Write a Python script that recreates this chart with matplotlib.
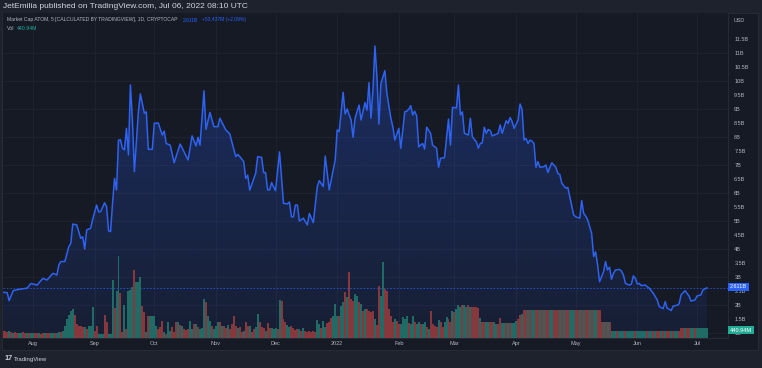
import matplotlib.pyplot as plt
import matplotlib.dates as mdates
from matplotlib.patches import Polygon, Rectangle
import numpy as np
import pandas as pd

plt.rcParams['font.family'] = ['Liberation Sans', 'DejaVu Sans']

W, H = 762, 368

# Market cap of ATOM in billions of USD; day offsets are counted from 2021-08-01
start = pd.Timestamp('2021-08-01')
cap_day = [-15, -13, -12, -10, -7, -3, -1, 2, 5, 7, 10, 12, 13, 14, 16, 18, 19, 20, 22, 24,
           25, 26, 27, 29, 30, 32, 33, 34, 36, 37, 38, 39, 40, 41, 42, 43, 44, 45, 46, 47,
           48, 49, 50, 51, 53, 54, 56, 57, 58, 60, 61, 63, 65, 66, 67, 69, 71, 74, 76, 78,
           80, 82, 83, 84, 86, 87, 89, 91, 93, 94, 97, 99, 100, 102, 103, 104, 106, 107, 108, 109,
           112, 113, 115, 116, 117, 118, 119, 120, 122, 124, 126, 128, 129, 130, 131, 132, 133, 134, 136, 138,
           139, 141, 143, 144, 146, 147, 149, 152, 153, 154, 156, 157, 158, 160, 161, 162, 164, 165, 167, 168,
           169, 170, 171, 172, 173, 174, 175, 177, 178, 180, 181, 182, 184, 185, 187, 188, 189, 190, 191, 192,
           193, 194, 196, 197, 198, 200, 201, 203, 204, 205, 207, 209, 210, 211, 213, 214, 215, 216, 217, 219,
           220, 221, 223, 224, 225, 226, 227, 228, 229, 230, 231, 234, 235, 236, 238, 239, 240, 241, 242, 244,
           245, 246, 247, 248, 249, 250, 251, 252, 253, 254, 255, 257, 258, 259, 260, 261, 263, 264, 265, 266,
           268, 269, 270, 271, 272, 273, 275, 276, 277, 278, 279, 280, 281, 282, 283, 284, 285, 286, 287, 288,
           289, 290, 291, 292, 293, 295, 296, 297, 298, 300, 301, 302, 303, 304, 305, 306, 308, 309, 310, 312,
           314, 315, 317, 318, 319, 320, 321, 322, 324, 325, 326, 328, 330, 331, 333, 334, 336, 337, 339]
cap_bn = [2.45, 2.44, 2.15, 2.51, 2.56, 2.60, 2.77, 2.71, 2.95, 2.89, 3.13, 3.07, 3.43, 3.55, 3.55, 4.08, 4.20, 4.89, 4.86, 4.38,
          4.44, 4.00, 4.68, 4.74, 5.06, 5.57, 5.33, 5.33, 5.65, 5.51, 4.65, 4.62, 5.63, 6.52, 6.11, 7.89, 7.90, 7.60, 7.54, 8.31,
          7.36, 9.86, 8.61, 6.76, 8.90, 9.54, 8.85, 8.90, 7.56, 7.56, 8.49, 8.50, 8.07, 8.21, 7.77, 7.71, 7.08, 7.75, 7.47, 7.18,
          8.04, 7.68, 7.99, 7.71, 9.65, 8.27, 8.88, 8.37, 8.37, 8.67, 8.25, 8.11, 7.83, 7.30, 7.38, 7.30, 7.12, 6.52, 6.64, 6.10,
          6.70, 7.30, 7.27, 6.73, 6.73, 6.11, 6.11, 6.37, 6.08, 7.47, 5.63, 5.61, 5.68, 5.15, 5.15, 5.57, 5.57, 5.00, 5.10, 4.86,
          5.27, 4.94, 6.23, 6.44, 6.23, 7.32, 6.11, 7.18, 8.25, 8.19, 9.60, 8.82, 9.00, 8.61, 7.99, 8.67, 9.14, 8.61, 9.23, 8.96,
          9.94, 8.67, 9.70, 11.25, 10.16, 8.46, 9.92, 10.37, 9.56, 8.67, 8.37, 7.89, 8.31, 7.60, 8.90, 8.92, 8.99, 9.12, 8.79, 8.92,
          8.75, 7.65, 7.77, 7.57, 8.35, 8.13, 7.71, 7.60, 6.92, 7.24, 7.26, 8.64, 7.71, 9.06, 9.04, 9.86, 8.79, 8.90, 8.13, 8.07,
          8.67, 8.01, 7.83, 7.60, 7.77, 7.79, 8.35, 8.13, 8.27, 8.23, 8.04, 8.13, 8.43, 8.13, 8.58, 8.49, 8.70, 8.55, 8.31, 8.61,
          9.18, 8.99, 7.89, 7.95, 7.77, 7.89, 7.85, 7.77, 6.92, 7.12, 6.92, 6.94, 7.00, 6.73, 6.92, 7.08, 6.92, 6.70, 6.66, 6.35,
          6.17, 6.20, 5.87, 5.54, 5.21, 5.15, 5.10, 5.73, 5.27, 5.18, 5.04, 4.80, 4.56, 3.73, 3.90, 3.43, 2.83, 3.01, 3.19, 3.55,
          3.25, 3.35, 2.92, 3.13, 3.25, 3.27, 3.21, 3.07, 2.77, 2.71, 2.75, 3.04, 2.95, 2.75, 2.77, 2.69, 2.71, 2.65, 2.60, 2.42,
          2.18, 1.94, 1.87, 2.12, 1.88, 1.85, 1.80, 1.96, 1.99, 2.04, 2.36, 2.51, 2.32, 2.14, 2.18, 2.32, 2.36, 2.54, 2.611]

# Daily volume in millions, first bar on 2021-07-17; g = up day, r = down day
vol_first_day = -15
volume = ([330, 300, 280, 310, 250, 240, 260, 230, 220, 240, 250, 210, 230, 240, 220, 230,
           240, 210, 220, 200, 240, 230, 210, 220, 230, 240, 220, 230, 260, 280, 300]
          + [525, 855, 1035, 1230, 1305, 1035, 630, 525, 525, 480,
             480, 405, 555, 555, 1410, 330, 525, 180, 180, 180,
             1035, 705, 180, 180, 2610, 1350, 2130, 3705, 2010, 255,
             1500, 405, 2130, 2175, 2280, 3060, 2505, 2505, 2730, 1455,
             1155, 255, 1005, 1005, 975, 1005, 555, 405, 480, 780,
             255, 180, 735, 330, 480, 255, 705, 735, 585, 525,
             405, 375, 405, 780, 405, 630, 630, 480, 405, 435,
             1755, 1635, 975, 780, 525, 405, 555, 705, 705, 525,
             525, 435, 585, 405, 630, 975, 525, 435, 480, 285,
             330, 705, 525, 525, 285, 405, 480, 1080, 735, 480,
             435, 330, 675, 435, 435, 405, 435, 405, 1710, 1665,
             855, 705, 585, 480, 525, 435, 375, 405, 405, 330,
             435, 330, 285, 330, 285, 330, 285, 825, 630, 435,
             780, 480, 675, 735, 885, 975, 1530, 1005, 975, 1455,
             1605, 2085, 1830, 2955, 1755, 1680, 1980, 1905, 1605, 1530,
             1230, 1305, 1305, 1230, 1155, 1230, 855, 585, 2355]
          + [1905, 3405, 2205, 2130, 1305, 1005, 705, 855, 780, 630,
             630, 930, 855, 1005, 675, 630, 975, 735, 630, 705,
             630, 630, 705, 480, 405, 1230, 630, 525, 480, 825,
             735, 480, 735, 930, 855, 705, 1230, 1185, 1305, 1500,
             1380, 1485, 1500, 1380, 1485, 1380, 1380, 1380, 1380, 1335,
             885, 705, 705, 705, 705, 705, 705, 705, 630, 630,
             900, 675, 675, 675, 675, 675, 675, 675, 780, 855,
             1035, 1080]
          + [1275] * 39 + [735] * 5 + [330] * 35 + [450] * 13 + [441])
vol_dir = ("rrrgrgrrggrrgrggrrgrrgrrggrggrg"
           + "gggggrrrrr" + "grgggrrggg" + "rrgggrggrr" + "grgggrgggr" + "rgrggggrrr"
           + "grggrrrgrg" + "rrrggrgrgg" + "grggrgggrg" + "rrgrrrrgrr" + "grrgrrggrr"
           + "rgrrgggrgr" + "rrggrrrrgr" + "grrrrrrggr" + "ggrrrgggrg" + "grgrrrggrg"
           + "rgrrrrgrr"
           + "ggrrrrrgrr" + "ggggrggrgg" + "rggrgrrrrg" + "rrggrrgrgg" + "grggrgrrrr"
           + "grrggrrggr" + "rggrgrgggr" + "rg"
           + "rrgrggrrgr" + "grrggrrrgr" + "grrgggrrgr" + "grrgrggrr"
           + "rgrgr"
           + "gggrgggrgg" + "ggrgggggrg" + "grgrrgrgrr" + "grggr"
           + "rrgrrggrgggggg")

month_starts = ['2021-08-01', '2021-09-01', '2021-10-01', '2021-11-01', '2021-12-01', '2022-01-01',
                '2022-02-01', '2022-03-01', '2022-04-01', '2022-05-01', '2022-06-01', '2022-07-01']
month_labels = ['Aug', 'Sep', 'Oct', 'Nov', 'Dec', '2022', 'Feb', 'Mar', 'Apr', 'May', 'Jun', 'Jul']
major_ticks = [1, 2, 3, 4, 5, 6, 7, 8, 9, 10, 11]
half_ticks = [1.5, 2.5, 3.5, 4.5, 5.5, 6.5, 7.5, 8.5, 9.5, 10.5, 11.5]
last_cap_text = '2.611B'
last_vol_text = '440.94M'

BG = '#161a25'
OUTER = '#1e222d'
GRID = '#222634'
TXT = '#b2b5be'
BLUE = '#2e62f0'
UP = '#216b66'
DOWN = '#86383d'


def fx(px):
    return px / W


def fy(py):
    return 1 - py / H


fig = plt.figure(figsize=(W / 100, H / 100), dpi=100, facecolor=OUTER)
fig.add_artist(Rectangle((fx(2), fy(350)), fx(758) - fx(2), fy(13) - fy(350),
                         transform=fig.transFigure, facecolor=BG, edgecolor='#2a2e39',
                         lw=0.6, zorder=-5))

ax = fig.add_axes([fx(3), fy(338), fx(728) - fx(3), fy(13) - fy(338)])
ax.set_facecolor(BG)

cap_x = mdates.date2num(start + pd.to_timedelta(cap_day, unit='D'))
x0 = mdates.date2num(start) - 15.1
x1 = mdates.date2num(start) + 349.6
ymin, ymax = 0.82, 12.43

# gradient area under the line
poly = Polygon(np.column_stack([np.r_[cap_x, cap_x[-1], cap_x[0]],
                                np.r_[cap_bn, ymin, ymin]]),
               closed=True, facecolor='none', edgecolor='none')
ax.add_patch(poly)
grad = np.zeros((256, 1, 4))
grad[:, 0, 0] = 41 / 255
grad[:, 0, 1] = 98 / 255
grad[:, 0, 2] = 1.0
grad[:, 0, 3] = np.linspace(0.28, 0.07, 256)
im = ax.imshow(grad, extent=(cap_x[0], cap_x[-1], ymin, max(cap_bn)), origin='upper',
               aspect='auto', zorder=1, interpolation='bilinear')
im.set_clip_path(poly)

ax.plot(cap_x, cap_bn, color=BLUE, lw=1.1, zorder=3, solid_joinstyle='round')
ax.axhline(float(last_cap_text[:-1]), color='#2962ff', lw=0.6, ls=(0, (2, 2)), alpha=0.8, zorder=2)

ax.set_xlim(x0, x1)
ax.set_ylim(ymin, ymax)
ax.set_axisbelow(True)
for side in ['top', 'left']:
    ax.spines[side].set_visible(False)
for side in ['right', 'bottom']:
    ax.spines[side].set_color('#2a2e39')
    ax.spines[side].set_linewidth(0.6)

# volume pane on a twin axis
ax2 = ax.twinx()
vol_x = mdates.date2num(start + pd.to_timedelta(np.arange(len(volume)) + vol_first_day, unit='D'))
colors = [UP if d == 'g' else DOWN for d in vol_dir]
ax2.bar(vol_x, volume, width=1.0, color=colors, edgecolor='none', linewidth=0, antialiased=False)
ax2.set_ylim(0, 14625)
ax2.set_xlim(x0, x1)
ax2.set_yticks([])
for s in ax2.spines.values():
    s.set_visible(False)

# ticks (after twinx, which moves the price ticks back to the left)
ax.set_xticks(mdates.date2num(pd.to_datetime(month_starts)))
ax.set_xticklabels(month_labels)
ax.set_yticks(major_ticks)
ax.set_yticklabels([f'{v:g}B' for v in major_ticks])
ax.set_yticks(half_ticks, minor=True)
ax.set_yticklabels([f'{v:g}B' for v in half_ticks], minor=True)
ax.yaxis.tick_right()
ax.tick_params(axis='x', length=0, pad=2.5, labelsize=4.0, labelcolor=TXT)
ax.tick_params(axis='y', which='both', length=0, pad=4.5, labelsize=4.0, labelcolor=TXT,
               left=False, labelleft=False, right=False, labelright=True)
ax.grid(True, which='major', color=GRID, lw=0.5)

# header and legend text
fig.text(fx(3), fy(6.5), 'JetEmilia published on TradingView.com, Jul 06, 2022 08:10 UTC',
         color='#d1d4dc', fontsize=6.0, va='center', ha='left')
fig.text(fx(7), fy(20), 'Market Cap ATOM, 5 [CALCULATED BY TRADINGVIEW], 1D, CRYPTOCAP',
         color=TXT, fontsize=3.65, va='center', ha='left')
fig.text(fx(183), fy(20), '2.611B', color='#2962ff', fontsize=3.65, va='center', ha='left')
fig.text(fx(202), fy(20), '+53.437M (+2.09%)', color='#2962ff', fontsize=3.65, va='center', ha='left')
fig.text(fx(7), fy(28), 'Vol', color=TXT, fontsize=3.8, va='center', ha='left')
fig.text(fx(17), fy(28), last_vol_text, color='#26a69a', fontsize=3.8, va='center', ha='left')
fig.text(fx(734), fy(20), 'USD', color=TXT, fontsize=3.9, va='center', ha='left')

# last value labels on the price scale
fig.text(fx(730), fy(287), last_cap_text, color='white', fontsize=4.0, va='center', ha='left',
         bbox=dict(facecolor='#2962ff', edgecolor='none', boxstyle='square,pad=0.35'), zorder=10)
fig.text(fx(730), fy(330), last_vol_text, color='white', fontsize=4.0, va='center', ha='left',
         bbox=dict(facecolor='#22ab94', edgecolor='none', boxstyle='square,pad=0.3'), zorder=10)

# footer logo
fig.text(fx(4), fy(359), '17', color='#d1d4dc', fontsize=5.2, fontweight='bold', va='center', ha='left')
fig.text(fx(14), fy(359), 'TradingView', color='#d1d4dc', fontsize=4.3, va='center', ha='left')

fig.savefig('out.png', dpi=100, facecolor=OUTER)
